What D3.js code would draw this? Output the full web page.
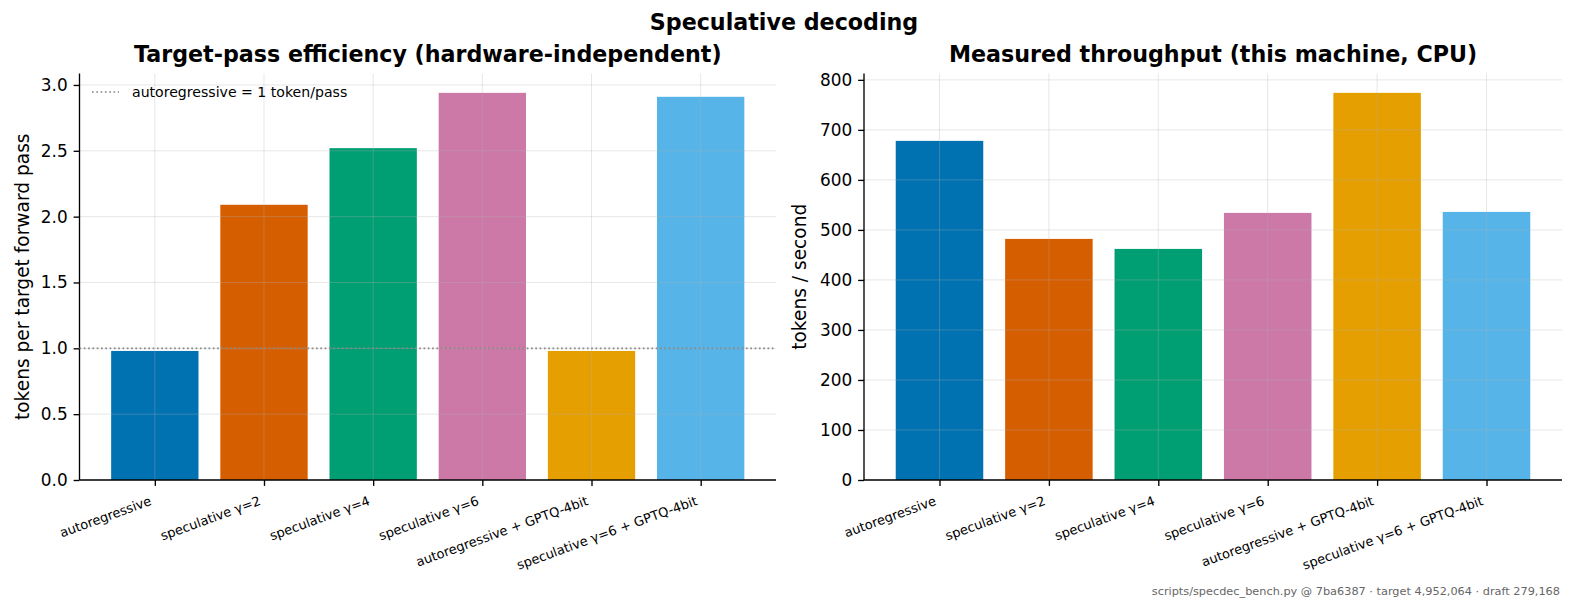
<!DOCTYPE html>
<html>
<head>
<meta charset="utf-8">
<script src="https://cdn.jsdelivr.net/npm/d3@7/dist/d3.min.js"></script>
<style>
  body { margin: 0; background: #fff; }
  svg { display: block; font-family: "DejaVu Sans", sans-serif; }
</style>
</head>
<body>
<svg id="chart" width="1575" height="613"></svg>
<script>
const categories = [
  "autoregressive",
  "speculative γ=2",
  "speculative γ=4",
  "speculative γ=6",
  "autoregressive + GPTQ-4bit",
  "speculative γ=6 + GPTQ-4bit"
];
const colors = ["#0072B2", "#D55E00", "#009E73", "#CC79A7", "#E69F00", "#56B4E9"];
const tokensPerPass = [0.98, 2.09, 2.52, 2.94, 0.98, 2.91];
const tokensPerSecond = [678, 482, 462, 534, 774, 536];
const leftTicks = [0.0, 0.5, 1.0, 1.5, 2.0, 2.5, 3.0];
const rightTicks = [0, 100, 200, 300, 400, 500, 600, 700, 800];
const baselineValue = 1.0;

const svg = d3.select("#chart");

svg.append("text")
  .attr("x", 784).attr("y", 30)
  .attr("text-anchor", "middle")
  .attr("font-weight", "bold").attr("font-size", 22.2)
  .text("Speculative decoding");

svg.append("text")
  .attr("x", 1560).attr("y", 595)
  .attr("text-anchor", "end")
  .attr("font-size", 11.3).attr("fill", "#666")
  .text("scripts/specdec_bench.py @ 7ba6387 · target 4,952,064 · draft 279,168");

function panel(opts) {
  const { x0, x1, y0, y1, values, yTicks, yMax, fmt, title, ylabel, ylabelX } = opts;
  const g = svg.append("g");
  const n = categories.length;
  // matplotlib-like: bar width 0.8 of unit spacing, margins 5% of data span
  const lo = -0.4 - 0.05 * (n - 1 + 0.8), hi = n - 1 + 0.4 + 0.05 * (n - 1 + 0.8);
  const xl = d3.scaleLinear().domain([lo, hi]).range([x0, x1]);
  const y = d3.scaleLinear().domain([0, yMax]).range([y1, y0]);

  // bars
  g.selectAll("rect.bar").data(values).join("rect")
    .attr("class", "bar")
    .attr("x", (d, i) => xl(i - 0.4))
    .attr("width", (d, i) => xl(i + 0.4) - xl(i - 0.4))
    .attr("y", d => y(d))
    .attr("height", d => y(0) - y(d))
    .attr("fill", (d, i) => colors[i]);

  // grid (drawn above bars)
  const grid = g.append("g").attr("stroke", "#b0b0b0").attr("stroke-opacity", 0.35).attr("stroke-width", 0.9);
  grid.selectAll("line.h").data(yTicks).join("line")
    .attr("x1", x0).attr("x2", x1)
    .attr("y1", d => y(d)).attr("y2", d => y(d));
  grid.selectAll("line.v").data(categories).join("line")
    .attr("x1", (d, i) => xl(i)).attr("x2", (d, i) => xl(i))
    .attr("y1", y0).attr("y2", y1);

  // y axis
  const yAxis = d3.axisLeft(y).tickValues(yTicks).tickFormat(fmt).tickSize(5.9).tickPadding(5.9);
  const ya = g.append("g").attr("transform", `translate(${x0},0)`).call(yAxis);
  ya.select(".domain").attr("stroke", "#000").attr("stroke-width", 1.35).attr("d", `M0,${y0}V${y1}`);
  ya.selectAll(".tick line").attr("stroke", "#000").attr("stroke-width", 1.35);
  ya.selectAll(".tick text").attr("font-size", 16.9).attr("fill", "#000").attr("font-family", "DejaVu Sans");

  // x axis
  const xAxis = d3.axisBottom(xl).tickValues(d3.range(n)).tickFormat(i => categories[i]).tickSize(5.9).tickPadding(0);
  const xa = g.append("g").attr("transform", `translate(0,${y1})`).call(xAxis);
  xa.select(".domain").attr("stroke", "#000").attr("stroke-width", 1.35).attr("d", `M${x0},0H${x1}`);
  xa.selectAll(".tick line").attr("stroke", "#000").attr("stroke-width", 1.35);
  xa.selectAll(".tick text")
    .attr("font-size", 13).attr("fill", "#000").attr("font-family", "DejaVu Sans")
    .attr("text-anchor", "end")
    .attr("y", 0).attr("dy", "0")
    .attr("transform", "translate(-3,24.5) rotate(-20)");

  // title
  g.append("text")
    .attr("x", (x0 + x1) / 2).attr("y", 62)
    .attr("text-anchor", "middle")
    .attr("font-weight", "bold").attr("font-size", 22.2)
    .text(title);

  // y label
  g.append("text")
    .attr("transform", `translate(${ylabelX},${(y0 + y1) / 2}) rotate(-90)`)
    .attr("text-anchor", "middle")
    .attr("font-size", 18.6)
    .text(ylabel);

  return { g, xl, y };
}

const L = panel({
  x0: 79.5, x1: 776, y0: 73.5, y1: 480,
  values: tokensPerPass, yTicks: leftTicks, yMax: 3.087,
  fmt: d3.format(".1f"),
  title: "Target-pass efficiency (hardware-independent)",
  ylabel: "tokens per target forward pass", ylabelX: 29
});

// baseline
L.g.append("line")
  .attr("x1", 79.5).attr("x2", 776)
  .attr("y1", L.y(baselineValue)).attr("y2", L.y(baselineValue))
  .attr("stroke", "#888").attr("stroke-width", 1.7).attr("stroke-dasharray", "1.7,2.6");

// legend
L.g.append("line")
  .attr("x1", 92).attr("x2", 119).attr("y1", 92).attr("y2", 92)
  .attr("stroke", "#888").attr("stroke-width", 1.7).attr("stroke-dasharray", "1.7,2.6");
L.g.append("text")
  .attr("x", 132).attr("y", 97)
  .attr("font-size", 14.1)
  .text("autoregressive = 1 token/pass");

panel({
  x0: 864, x1: 1562, y0: 73.5, y1: 480,
  values: tokensPerSecond, yTicks: rightTicks, yMax: 812.7,
  fmt: d3.format("d"),
  title: "Measured throughput (this machine, CPU)",
  ylabel: "tokens / second", ylabelX: 806
});
</script>
</body>
</html>
